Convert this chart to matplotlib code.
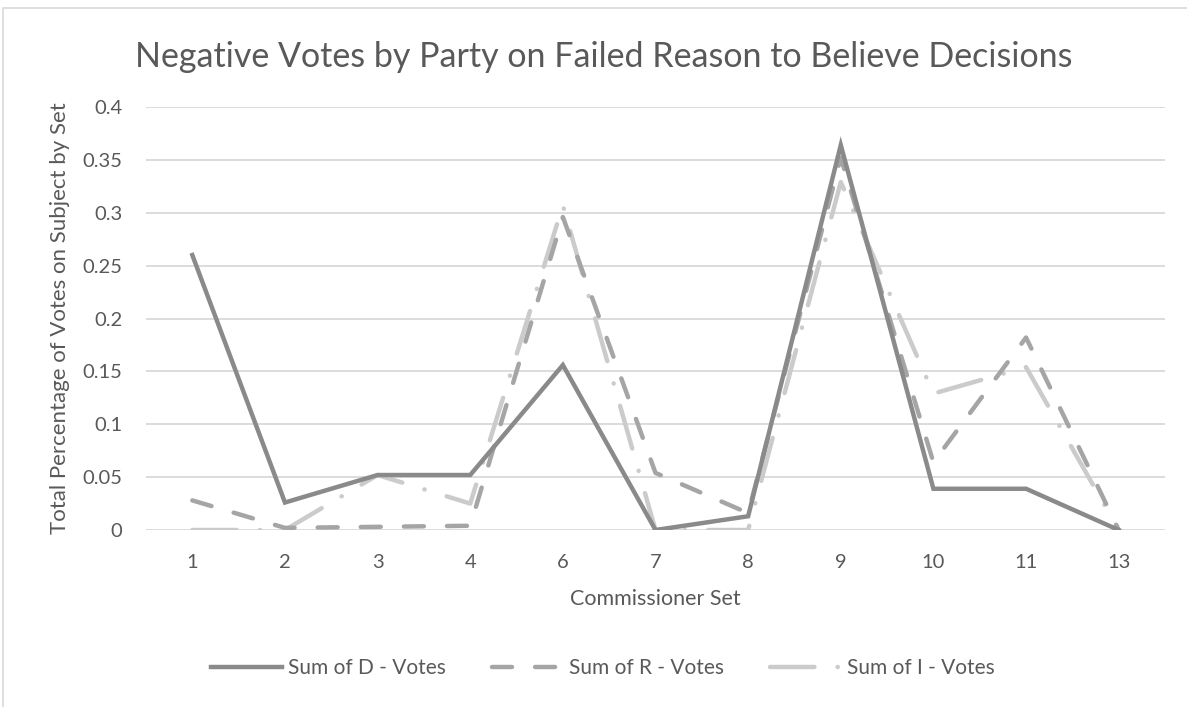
import matplotlib
matplotlib.use("Agg")
import matplotlib.pyplot as plt
from matplotlib.patches import Rectangle

# data
sets = ["1", "2", "3", "4", "6", "7", "8", "9", "10", "11", "13"]
d_votes = [0.26, 0.026, 0.052, 0.052, 0.156, 0.0, 0.013, 0.364, 0.039, 0.039, 0.0]
r_votes = [0.028, 0.002, 0.003, 0.004, 0.296, 0.054, 0.016, 0.352, 0.064, 0.182, 0.0]
i_votes = [0.0, 0.0, 0.052, 0.025, 0.307, 0.0, 0.0, 0.329, 0.129, 0.154, 0.0]
y_ticks = [0, 0.05, 0.1, 0.15, 0.2, 0.25, 0.3, 0.35, 0.4]
y_tick_labels = ["0", "0.05", "0.1", "0.15", "0.2", "0.25", "0.3", "0.35", "0.4"]

plt.rcParams['font.family'] = ['Lato', 'DejaVu Sans']
W, H = 1187, 707
fig = plt.figure(figsize=(W / 100, H / 100), dpi=100)

# chart frame (cropped at the right and bottom)
fig.patches.append(Rectangle((3 / W, -0.1), 1.2, 1 - 8 / H + 0.1, transform=fig.transFigure,
                             fill=False, edgecolor="#d9d9d9", lw=1.2))

ax = fig.add_axes([146 / W, 1 - 530 / H, (1165 - 146) / W, (530 - 107) / H])
x = list(range(len(sets)))

ax.plot(x, d_votes, color="#8a8a8a", lw=3.2, solid_joinstyle="miter",
        label="Sum of D - Votes", zorder=4)
ax.plot(x, r_votes, color="#a5a5a5", lw=3.2, dashes=(4.5, 5.2),
        dash_capstyle="round", label="Sum of R - Votes", zorder=3)
ax.plot(x, i_votes, color="#cbcbcb", lw=3.2, dashes=(10, 5.2, 0.05, 5.2),
        dash_capstyle="round", label="Sum of I - Votes", zorder=2)

ax.set_xlim(-0.5, len(sets) - 0.5)
ax.set_ylim(0, 0.4)
ax.set_xticks(x)
ax.set_xticklabels(sets)
ax.set_yticks(y_ticks)
ax.set_yticklabels(y_tick_labels)
ax.tick_params(length=0, labelsize=14.5, colors="#595959")
ax.tick_params(axis="y", pad=17)
ax.tick_params(axis="x", pad=17)
ax.grid(axis="y", color="#d9d9d9", lw=1.3)
ax.set_axisbelow(True)
for s in ax.spines.values():
    s.set_visible(False)

ax.set_xlabel("Commissioner Set", fontsize=15.5, color="#595959", labelpad=13)
ax.set_ylabel("Total Percentage of Votes on Subject by Set", fontsize=16,
              color="#595959", labelpad=9)
fig.text(604 / W, 1 - 57 / H, "Negative Votes by Party on Failed Reason to Believe Decisions",
         ha="center", va="center", fontsize=24.5, color="#595959")

fig.legend(loc="center", bbox_to_anchor=(603 / W, 1 - 668 / H), ncol=3, frameon=False,
           fontsize=15, labelcolor="#595959", handlelength=3.4, handletextpad=0.3,
           columnspacing=2.2)

fig.savefig("out.png", dpi=100)
